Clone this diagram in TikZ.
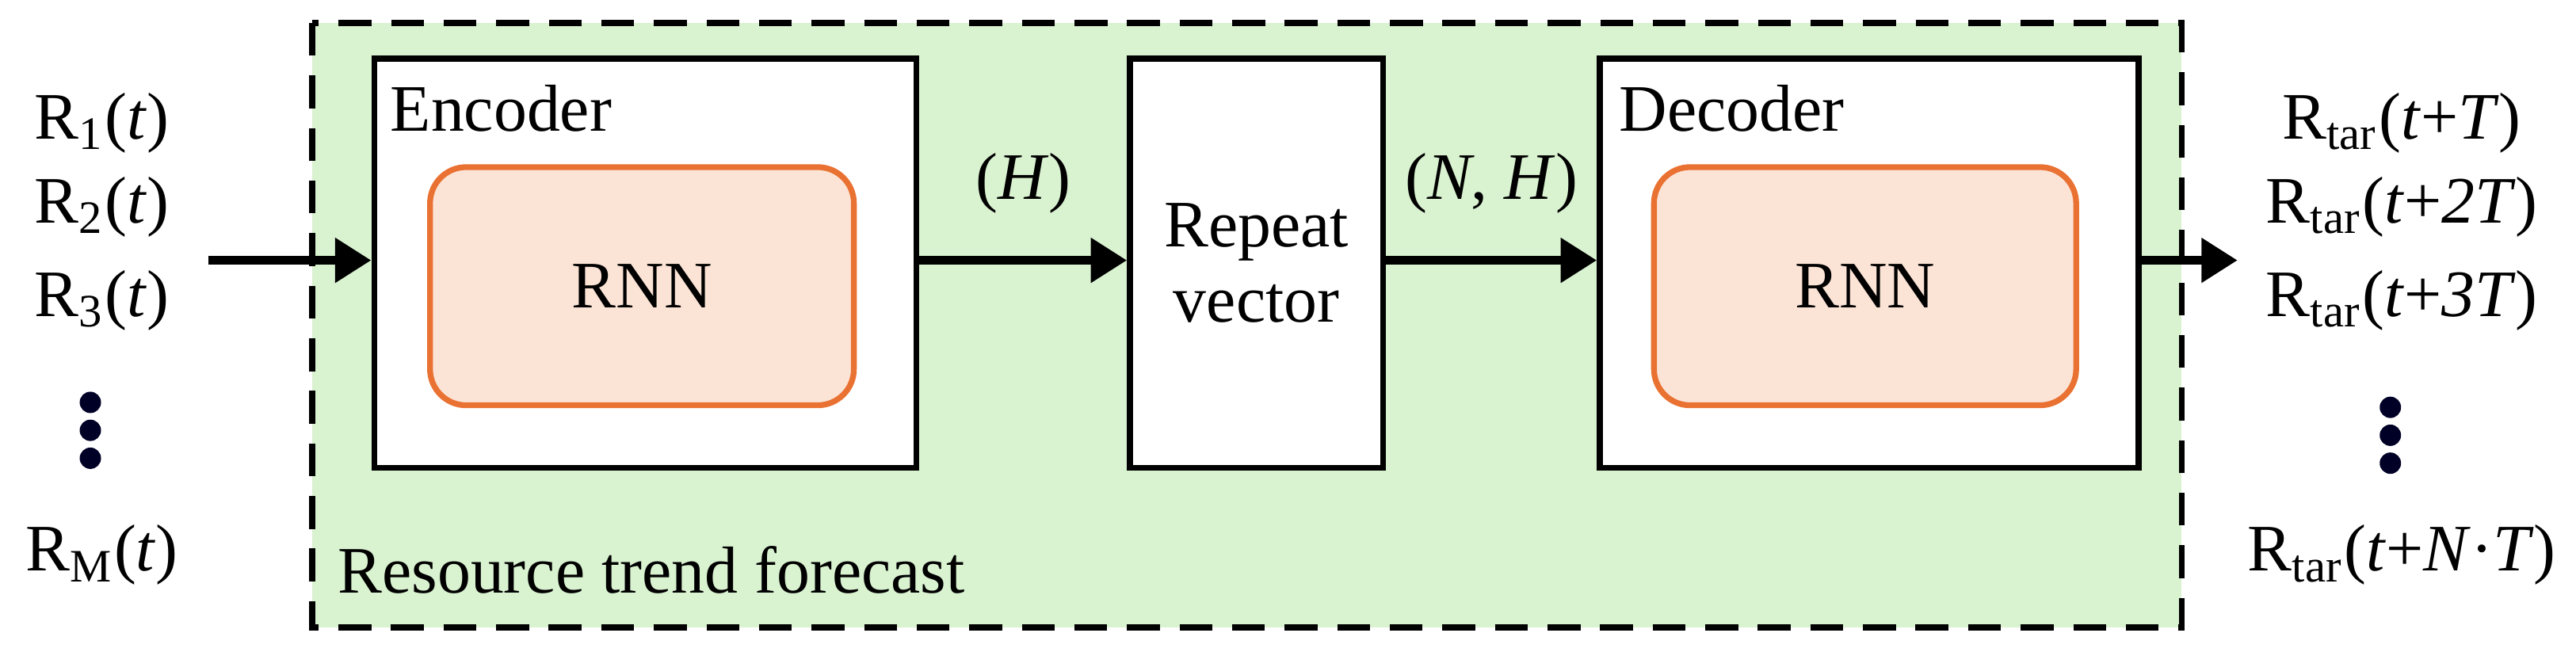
\documentclass[tikz,border=0pt]{standalone}
\usepackage{fontspec}
\setmainfont{Liberation Serif}
\usetikzlibrary{arrows.meta}
\definecolor{bggreen}{HTML}{D9F2D0}
\definecolor{rnnor}{HTML}{E97132}
\definecolor{rnnfill}{HTML}{FBE3D6}
\tikzset{
  box/.style={draw=black,line width=1pt,fill=white},
  rnn/.style={draw=rnnor,line width=1pt,fill=rnnfill,rounded corners=2.2mm},
  arr/.style={line width=1.6pt,-{Triangle[length=2.2mm,width=2.6mm]}},
  lab/.style={font=\fontsize{11.5}{13}\selectfont,inner sep=0pt},
  dot/.style={circle,fill=black!85!blue,inner sep=0pt,minimum size=1.3mm},
}
\newcommand{\Rs}[1]{R\textsubscript{#1}}
\begin{document}
\begin{tikzpicture}[x=0.1mm,y=-0.1mm]
\useasboundingbox (0,0) rectangle (1568,396.5);
\fill[bggreen] (190,14) rectangle (1328,382);
\draw[line width=1pt,dash pattern=on 2mm off 1.2mm] (190,14) rectangle (1328,382);
\node[box,minimum width=33mm,minimum height=24.9mm,anchor=north west] (enc) at (226,34) {};
\node[box,minimum width=15.4mm,minimum height=24.9mm,anchor=north west,align=center,lab] (rep) at (686,34) {Repeat\\vector};
\node[box,minimum width=32.8mm,minimum height=24.9mm,anchor=north west] (dec) at (972,34) {};
\node[rnn,minimum width=25.8mm,minimum height=14.5mm,anchor=north west,lab] (rnn1) at (260,100) {RNN};
\node[rnn,minimum width=25.7mm,minimum height=14.5mm,anchor=north west,lab] (rnn2) at (1005,100) {RNN};
\node[lab,anchor=base west] (enct) at (237,80) {Encoder};
\node[lab,anchor=base west] (dect) at (985,80) {Decoder};
\node[lab,anchor=base west] (rtf) at (205,361) {Resource trend forecast};
\coordinate (in) at (127,158.5);
\coordinate (out) at (1362,158.5);
\draw[arr] (in) -- (enc.west|-in);
\draw[arr] (enc.east|-in) -- node[lab,above=2.6mm] (hl) {(\textit{H})} (rep.west|-in);
\draw[arr] (rep.east|-in) -- node[lab,above=2.6mm] (nhl) {(\textit{N}, \textit{H})} (dec.west|-in);
\draw[arr] (dec.east|-in) -- (out);
\node[lab] (r1) at (62,75) {\Rs{1}(\textit{t})};
\node[lab] (r2) at (62,126) {\Rs{2}(\textit{t})};
\node[lab] (r3) at (62,183) {\Rs{3}(\textit{t})};
\node[dot] (d1) at (55,245) {};
\node[dot] (d2) at (55,262) {};
\node[dot] (d3) at (55,279) {};
\node[lab] (rm) at (62,338) {\Rs{M}(\textit{t})};
\node[lab] (o1) at (1462,75) {\Rs{tar}(\textit{t}+\textit{T})};
\node[lab] (o2) at (1462,126) {\Rs{tar}(\textit{t}+\textit{2T})};
\node[lab] (o3) at (1462,183) {\Rs{tar}(\textit{t}+\textit{3T})};
\node[dot] (e1) at (1455,248) {};
\node[dot] (e2) at (1455,265) {};
\node[dot] (e3) at (1455,282) {};
\node[lab] (on) at (1462,338) {\Rs{tar}(\textit{t}+\textit{N}·\textit{T})};
\end{tikzpicture}
\end{document}
